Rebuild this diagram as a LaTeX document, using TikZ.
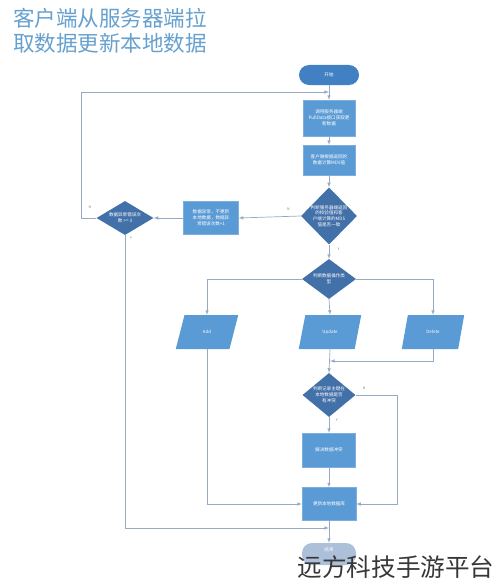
\documentclass[tikz,border=0pt]{standalone}
\usepackage{fontspec}
\setmainfont{Noto Sans CJK SC}
\usetikzlibrary{shapes,arrows,positioning}

\definecolor{boxblue}{RGB}{91,155,213}
\definecolor{decblue}{RGB}{66,112,168}
\definecolor{startblue}{RGB}{66,128,196}
\definecolor{endgray}{RGB}{172,192,218}
\definecolor{flowline}{RGB}{150,170,196}
\definecolor{titleblue}{RGB}{102,160,206}

\tikzset{
  proc/.style={draw=boxblue!80!white, fill=boxblue, text=white, align=center,
    inner sep=1pt, font=\fontsize{5.2}{6.8}\selectfont},
  dec/.style={diamond, fill=decblue, inner sep=0pt, aspect=1},
  dtext/.style={text=white, align=center, font=\fontsize{5.2}{6.6}\selectfont},
  io/.style={trapezium, trapezium left angle=66, trapezium right angle=114,
    trapezium stretches=true, fill=boxblue, text=white, inner sep=0pt,
    minimum width=2.5cm, minimum height=1.36cm, font=\fontsize{5}{6}\selectfont},
  term/.style={rounded corners=0.4cm, text=white, inner sep=0pt,
    font=\fontsize{5.2}{6}\selectfont},
  line/.style={draw=flowline, line width=0.8pt},
  yn/.style={text=gray, font=\fontsize{4}{5}\selectfont}
}

\begin{document}
\begin{tikzpicture}[x=0.04cm, y=-0.04cm, >=latex]
\useasboundingbox (0,0) rectangle (500,585);

% title
\node[anchor=west, align=left, text=titleblue, inner sep=0pt,
  font=\fontsize{24.5}{28.4}\selectfont] (title) at (13,31)
  {客户端从服务器端拉\\取数据更新本地数据};

% main column
\node[term, fill=startblue, minimum width=2.4cm, minimum height=0.8cm] (start) at (329,75) {开始};
\node[proc, minimum width=2.08cm, minimum height=1.44cm] (pull) at (329,118)
  {调用服务器端\\PullData接口获取更\\新数据};
\node[proc, minimum width=2.08cm, minimum height=1.2cm] (md5) at (329,160)
  {客户端根据返回的\\数据计算MD5值};
\node[dec, minimum width=2.24cm, minimum height=2.28cm,
  label={[dtext]center:{判断服务器端返回\\的校验值和客\\户端计算的MD5\\值是否一致}}] (chk) at (329,216) {};
\node[proc, minimum width=2.2cm, minimum height=1.32cm] (err) at (211,218)
  {数据异常，不更新\\本地数据，数据异\\常错误次数+1};
\node[dec, minimum width=2.28cm, minimum height=1.36cm,
  label={[dtext]center:{数据异常错误次\\数 >= 3}}] (cnt) at (125,218) {};
\node[dec, minimum width=2.16cm, minimum height=1.6cm,
  label={[dtext]center:{判断数据操作类\\型}}] (typ) at (329,279) {};

% operation types
\node[io] (add) at (207,332) {Add};
\node[io] (upd) at (330,332) {Update};
\node[io] (del) at (433,332) {Delete};

\node[dec, minimum width=2.12cm, minimum height=1.76cm,
  label={[dtext]center:{判断记录主键在\\本地数据是否\\有冲突}}] (conf) at (329,395) {};
\node[proc, minimum width=2.12cm, minimum height=1.36cm] (fix) at (329,450) {解决数据冲突};
\node[proc, minimum width=2.16cm, minimum height=1.32cm] (db) at (329,504) {更新本地数据库};
\node[term, fill=endgray, minimum width=2.16cm, minimum height=0.88cm,
  label={[text=white, font=\fontsize{5.2}{6}\selectfont, yshift=5pt]center:结束}] (fin) at (329,554) {};

% joints
\coordinate (jn1) at (329,92);
\coordinate (jn2) at (329,528);
\coordinate (jn3) at (330,361);

% connectors
\draw[line,->] (start) -- (pull);
\draw[line,->] (pull) -- (md5);
\draw[line,->] (md5) -- (chk);
\draw[line,->] (chk.west) -- (err.east) node[yn, pos=0.2, above=3pt] {N};
\draw[line,->] (chk.south) -- (typ.north) node[yn, pos=0.3, right=6pt] {Y};
\draw[line,->] (err.west) -- (cnt.east);
\draw[line,->] (cnt.west) -- ++(-15,0) |- (jn1);
\node[yn] (nlab) at (90,207) {N};
\draw[line,->] (cnt.south) |- (jn2);
\node[yn] (ylab) at (131,238) {Y};
\draw[line,->] (typ.west) -| (add.north);
\draw[line,->] (typ.east) -| (del.north);
\draw[line,->] (typ.south) -- (upd.north);
\draw[line,->] (del.south) |- (jn3);
\draw[line,->] (upd.south) -- (conf.north);
\draw[line,->] (conf.south) -- (fix.north) node[yn, pos=0.2, right=4pt] {Y};
\draw[line,->] (conf.east) -- ++(42,0) node[yn, pos=0.2, above=2pt] {N} |- (db.east);
\draw[line,->] (fix) -- (db);
\draw[line,->] (add.south) |- (db.west);
\draw[line,->] (db) -- (fin);

% watermark
\node[text={rgb,255:red,55;green,55;blue,55}, inner sep=0pt,
  font=\fontsize{28}{30}\selectfont] (mark) at (396,567) {远方科技手游平台};
\end{tikzpicture}
\end{document}
